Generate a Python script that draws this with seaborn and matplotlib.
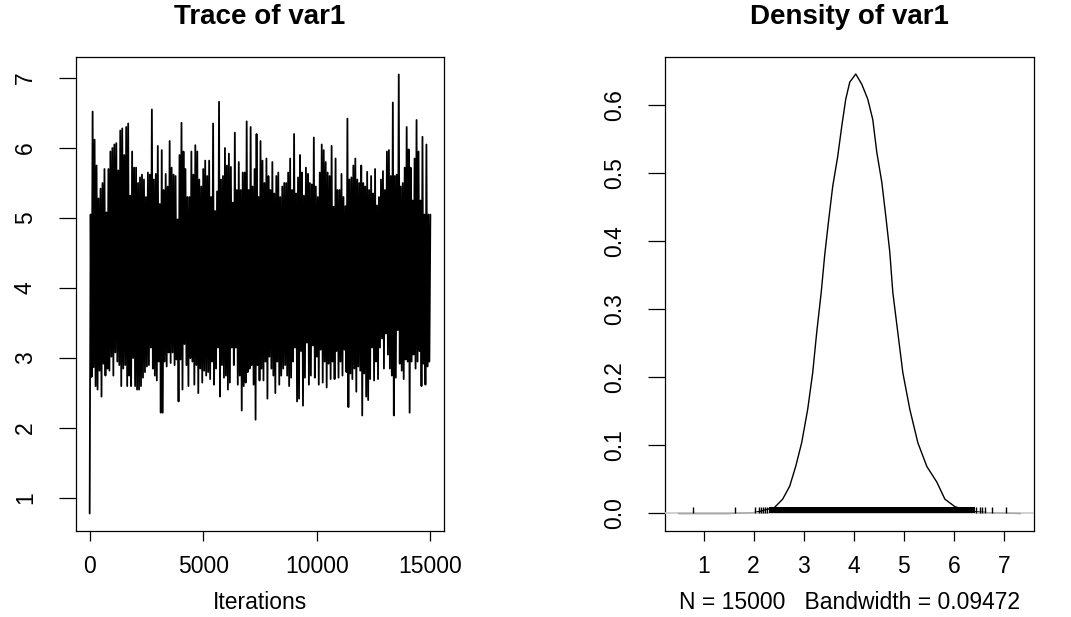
import numpy as np
import pandas as pd
import matplotlib
matplotlib.use("Agg")
import matplotlib.pyplot as plt
import seaborn as sns

# --- values ---
# trace: lower and upper turning points of the chain, left to right
trace_lo = [0.78, 2.73, 2.87, 2.60, 2.55, 2.82, 2.45, 2.92, 2.75, 2.85,
            2.82, 3.02, 2.75, 3.08, 2.95, 2.90, 2.60, 2.85, 2.90, 2.60,
            2.75, 2.60, 3.00, 2.60, 2.55, 2.55, 2.60, 2.72, 2.80, 2.88,
            2.90, 3.15, 2.85, 2.75, 2.68, 2.95, 2.22, 2.22, 2.95, 2.88,
            3.08, 2.93, 3.08, 2.90, 2.98, 2.38, 2.98, 2.55, 3.20, 2.90,
            2.60, 3.00, 2.95, 2.62, 2.90, 2.50, 2.85, 2.65, 2.82, 2.75,
            2.80, 2.70, 2.95, 2.62, 2.85, 3.15, 2.45, 2.90, 2.72, 2.75,
            2.55, 2.65, 3.15, 2.90, 3.15, 2.62, 2.75, 2.25, 2.60, 2.65,
            2.80, 2.85, 2.90, 2.62, 2.12, 2.90, 2.68, 2.85, 2.68, 2.95,
            2.42, 3.02, 2.85, 2.75, 2.50, 2.95, 2.62, 2.75, 2.85, 2.90,
            2.75, 2.60, 2.72, 2.95, 3.15, 2.38, 2.42, 3.10, 2.32, 2.72,
            3.22, 2.62, 2.75, 3.18, 2.72, 3.02, 2.62, 3.12, 2.65, 2.95,
            2.58, 2.92, 2.70, 2.95, 2.70, 3.10, 2.72, 2.95, 2.75, 3.12,
            2.80, 2.30, 2.78, 2.70, 2.85, 2.52, 2.88, 2.82, 2.18, 2.78,
            2.45, 2.40, 2.70, 3.15, 2.68, 2.95, 2.70, 3.15, 3.28, 2.85,
            3.35, 3.05, 2.85, 2.75, 2.18, 2.72, 3.40, 2.92, 2.82, 2.70,
            2.98, 2.95, 2.22, 2.95, 3.05, 2.85, 2.95, 3.10, 2.60, 2.92,
            2.62, 2.88, 2.95]
trace_hi = [5.05, 6.52, 6.12, 5.75, 5.28, 5.42, 5.50, 5.70, 5.08, 5.70,
            5.95, 6.00, 6.05, 6.07, 5.68, 6.25, 6.28, 5.90, 6.30, 6.35,
            5.32, 5.95, 5.72, 5.72, 5.50, 5.58, 5.62, 5.55, 5.30, 5.65,
            5.62, 6.55, 5.55, 5.63, 6.03, 5.20, 5.97, 5.40, 5.63, 5.45,
            6.10, 5.72, 5.62, 5.60, 4.98, 5.90, 6.36, 5.95, 5.70, 5.30,
            5.30, 5.95, 5.62, 6.04, 5.95, 5.55, 5.45, 5.70, 5.82, 5.60,
            5.82, 5.30, 6.35, 5.10, 5.38, 6.66, 5.55, 5.60, 6.00, 5.75,
            5.92, 5.73, 5.22, 6.22, 5.40, 5.80, 5.40, 5.65, 5.65, 6.38,
            5.40, 6.30, 5.45, 5.70, 6.20, 5.30, 6.10, 5.82, 5.50, 5.85,
            5.60, 5.40, 5.80, 5.35, 5.60, 5.65, 5.30, 5.45, 5.50,
            5.50, 5.65, 5.85, 5.40, 6.20, 5.35, 5.58, 5.90, 5.65,
            5.32, 5.72, 5.63, 5.50, 5.48, 6.15, 5.45, 5.30, 5.65, 6.05,
            5.97, 5.80, 5.65, 5.60, 6.03, 5.16, 5.85, 5.40, 5.40,
            5.63, 5.30, 5.17, 6.42, 5.55, 5.58, 5.75, 5.85, 5.55, 5.50,
            5.75, 5.50, 5.45, 5.66, 5.40, 5.60, 5.35, 5.70, 5.18,
            5.30, 5.55, 5.67, 5.40, 5.95, 5.97, 5.60, 6.65, 5.60,
            5.62, 7.05, 5.45, 5.50, 5.72, 6.30, 5.98, 5.72, 5.25, 5.85,
            6.40, 5.95, 5.25, 6.16, 5.05, 6.05, 5.05, 5.05]
n_iter = 15000

# density curve
dens_x = [0.50, 1.50, 2.00, 2.12, 2.42, 2.58, 2.72, 2.84, 2.96, 3.08,
          3.18, 3.26, 3.35, 3.42, 3.50, 3.58, 3.68, 3.76, 3.84, 3.92,
          4.04, 4.16, 4.28, 4.38, 4.46, 4.56, 4.64, 4.72, 4.78, 4.88,
          4.98, 5.12, 5.28, 5.46, 5.66, 5.82, 6.02, 6.32, 6.70, 7.33]
dens_y = [0.000, 0.000, 0.001, 0.003, 0.009, 0.021, 0.040, 0.069, 0.104, 0.153,
          0.207, 0.266, 0.325, 0.380, 0.432, 0.481, 0.525, 0.569, 0.609, 0.634,
          0.646, 0.631, 0.609, 0.579, 0.531, 0.487, 0.437, 0.384, 0.325, 0.266,
          0.207, 0.153, 0.104, 0.069, 0.046, 0.021, 0.010, 0.003, 0.001, 0.000]

# rug: isolated ticks plus the solid band of samples
rug_ticks = [0.78, 1.62, 2.02, 2.10, 2.14, 2.18, 2.22, 2.26,
             6.45, 6.52, 6.57, 6.62, 6.76, 7.05]
rug_band = (2.30, 6.42)
bandwidth = 0.09472

# --- build the trace ---
trace = [v for pair in zip(trace_lo, trace_hi) for v in pair]
df_trace = pd.DataFrame({"iter": np.linspace(1, n_iter, len(trace)), "value": trace})
df_dens = pd.DataFrame({"x": dens_x, "y": dens_y})

sns.set_theme(style="white")
plt.rcParams["font.family"] = ["Liberation Sans", "DejaVu Sans"]
plt.rcParams["text.color"] = "black"
plt.rcParams["axes.labelcolor"] = "black"

W, H = 1071, 617
fig = plt.figure(figsize=(W / 100, H / 100), dpi=100)
ax1 = fig.add_axes([76 / W, 1 - 531 / H, 368 / W, 474 / H])
ax2 = fig.add_axes([665 / W, 1 - 531 / H, 369 / W, 474 / H])

# GRAPH 1: trace
sns.lineplot(data=df_trace, x="iter", y="value", ax=ax1, color="black",
             linewidth=1.3, estimator=None, sort=False)
ax1.set_xlim(-600, 15600)
ax1.set_ylim(0.53, 7.30)
ax1.set_xticks([0, 5000, 10000, 15000])
ax1.set_yticks([1, 2, 3, 4, 5, 6, 7])
ax1.set_ylabel("")
ax1.set_xlabel("Iterations", fontsize=16.5, color="black")
ax1.xaxis.set_label_coords(0.5, -0.15)
ax1.xaxis.label.set_va("center")

# GRAPH 2: density
sns.lineplot(data=df_dens, x="x", y="y", ax=ax2, color="black",
             linewidth=1.0, estimator=None, sort=False)
ax2.axhline(0, color="#c8c8c8", linewidth=1.2, zorder=3)
ax2.vlines(rug_ticks, 0, 0.009, color="black", linewidth=1.0, zorder=4)
ax2.fill_between(list(rug_band), 0, 0.009, color="black", linewidth=0, zorder=4)
ax2.set_xlim(0.23, 7.60)
ax2.set_ylim(-0.0258, 0.671)
ax2.set_xticks([1, 2, 3, 4, 5, 6, 7])
ax2.set_yticks([0.0, 0.1, 0.2, 0.3, 0.4, 0.5, 0.6])
ax2.set_yticklabels(["0.0", "0.1", "0.2", "0.3", "0.4", "0.5", "0.6"])
ax2.set_ylabel("")
ax2.set_xlabel(f"N = {n_iter}   Bandwidth = {bandwidth}", fontsize=16.5, color="black")
ax2.xaxis.set_label_coords(0.5, -0.15)
ax2.xaxis.label.set_va("center")

for ax in (ax1, ax2):
    for s in ax.spines.values():
        s.set_visible(True)
        s.set_color("black")
        s.set_linewidth(0.9)
    ax.tick_params(axis="x", direction="out", length=7.2, width=0.9,
                   pad=10, labelsize=16.5, colors="black", bottom=True)
    ax.tick_params(axis="y", direction="out", length=12.2, width=0.9,
                   pad=16, labelsize=16.5, colors="black", left=True)
    for lab in ax.get_yticklabels():
        lab.set_rotation(90)
        lab.set_va("center")
    ax.grid(False)

fig.text((76 + 444) / 2 / W, 1 - 17 / H, "Trace of var1", ha="center", va="center",
         fontsize=20, fontweight="bold", color="black")
fig.text((665 + 1034) / 2 / W, 1 - 17 / H, "Density of var1", ha="center", va="center",
         fontsize=20, fontweight="bold", color="black")

fig.savefig("out.png", dpi=100, facecolor="white")
